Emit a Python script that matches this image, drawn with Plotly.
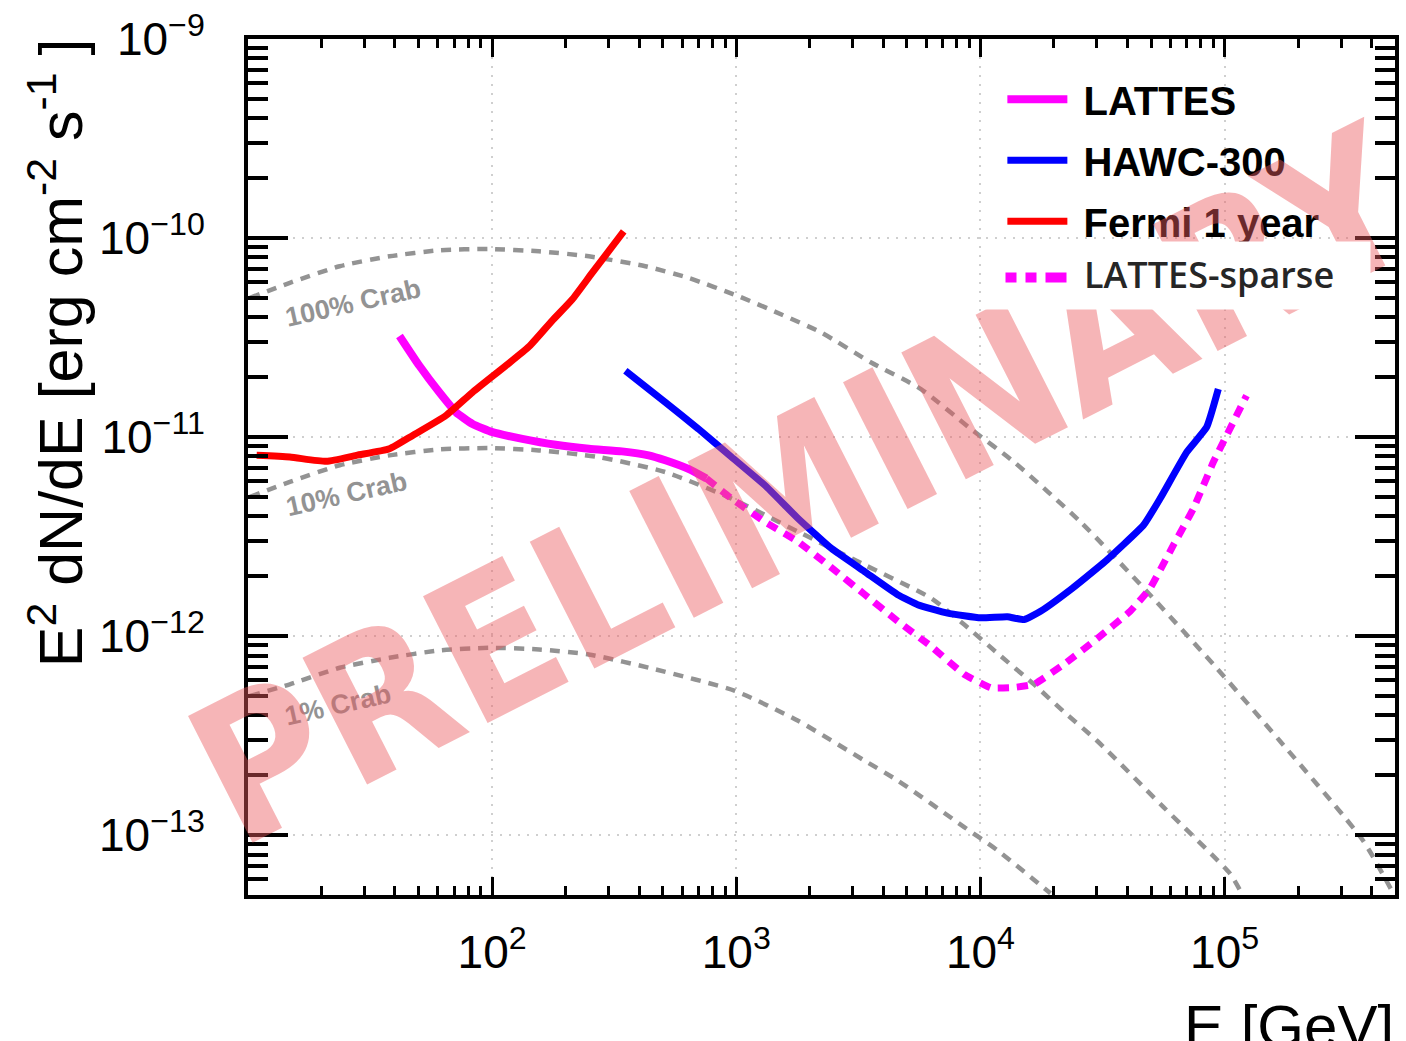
import plotly.graph_objects as go

# ---------------- data ----------------
# Fermi 1 year sensitivity
fermi_E = [10.85, 14.84, 20.95, 27.78, 37.98, 47.28, 64.7, 83.1, 113.7, 141.6, 176.3, 212.7, 256.7, 345.8]
fermi_F = [8.10e-12, 7.94e-12, 7.56e-12, 8.10e-12, 8.74e-12, 1.02e-11, 1.284e-11, 1.679e-11,
           2.283e-11, 2.85e-11, 3.85e-11, 4.914e-11, 6.68e-11, 1.080e-10]

# LATTES
lattes_E = [41.73, 50.35, 60.77, 71.1, 83.1, 100.3, 133.0, 182.0, 248.9, 340.2, 437.3, 511.7, 636.8, 754.6]
lattes_F = [3.224e-11, 2.283e-11, 1.679e-11, 1.334e-11, 1.165e-11, 1.059e-11, 9.80e-12, 9.15e-12,
            8.74e-12, 8.48e-12, 8.10e-12, 7.65e-12, 6.92e-12, 6.19e-12]

# LATTES-sparse
sparse_E = [754.6, 956.8, 1309, 1791, 2449, 3352, 4584, 6268, 8579, 11020, 13730, 16570, 21960,
            30030, 41060, 49560, 61760, 74530, 89940, 101900, 122970]
sparse_F = [6.19e-12, 4.914e-12, 3.758e-12, 2.985e-12, 2.213e-12, 1.622e-12, 1.189e-12, 8.91e-13,
            6.43e-13, 5.51e-13, 5.53e-13, 5.73e-13, 7.22e-13, 9.72e-13, 1.334e-12, 1.744e-12,
            2.873e-12, 4.38e-12, 7.50e-12, 1.020e-11, 1.616e-11]

# HAWC-300
hawc_E = [351.3, 511.7, 699.7, 956.8, 1309, 1791, 2449, 3352, 4584, 5533, 7335, 10030, 12890, 15080,
          17630, 23370, 30030, 32990, 46590, 54440, 69970, 84430, 94250]
hawc_F = [2.155e-11, 1.496e-11, 1.100e-11, 7.94e-12, 5.73e-12, 3.903e-12, 2.763e-12, 2.113e-12,
          1.616e-12, 1.440e-12, 1.307e-12, 1.237e-12, 1.252e-12, 1.212e-12, 1.334e-12, 1.712e-12,
          2.195e-12, 2.418e-12, 3.618e-12, 4.914e-12, 8.41e-12, 1.122e-11, 1.744e-11]

# Crab reference curves
crab100_E = [10.19, 14.84, 23.74, 37.98, 60.77, 97.2, 155.5, 248.9, 424.0, 637.0, 1019, 1531, 2230,
             3566, 5705, 9130, 13730, 25670, 48040, 89940, 168200, 368300, 489700]
crab100_F = [5.01e-11, 5.96e-11, 7.22e-11, 8.10e-11, 8.68e-11, 8.81e-11, 8.58e-11, 8.10e-11, 7.22e-11,
             6.31e-11, 5.11e-11, 4.134e-11, 3.350e-11, 2.371e-11, 1.744e-11, 1.100e-11, 7.50e-12,
             3.758e-12, 1.679e-12, 7.22e-13, 2.985e-13, 9.44e-14, 5.13e-14]

crab10_E = [10.19, 14.84, 23.74, 37.98, 60.77, 97.2, 155.5, 273.3, 511.7, 956.8, 1791, 3352, 6268,
            8579, 11730, 16570, 21960, 30030, 56200, 105100, 115500]
crab10_F = [5.01e-12, 5.96e-12, 7.22e-12, 8.10e-12, 8.68e-12, 8.81e-12, 8.58e-12, 7.94e-12, 6.68e-12,
            4.914e-12, 3.350e-12, 2.283e-12, 1.554e-12, 1.144e-12, 8.22e-13, 5.73e-13, 4.17e-13,
            2.985e-13, 1.385e-13, 6.43e-14, 5.31e-14]

crab1_E = [10.19, 14.84, 23.74, 37.98, 60.77, 97.2, 155.5, 248.9, 465.8, 987.9, 1791, 3352, 4584,
           8579, 11730, 19360]
crab1_F = [5.01e-13, 5.73e-13, 6.94e-13, 7.79e-13, 8.48e-13, 8.74e-13, 8.58e-13, 8.10e-13, 6.82e-13,
           5.31e-13, 3.758e-13, 2.371e-13, 1.884e-13, 1.100e-13, 8.41e-14, 5.11e-14]

x_tickvals = [1e2, 1e3, 1e4, 1e5]
x_ticktext = ["10<sup>2</sup>", "10<sup>3</sup>", "10<sup>4</sup>", "10<sup>5</sup>"]
y_tickvals = [1e-13, 1e-12, 1e-11, 1e-10, 1e-9]
y_ticktext = ["10<sup>\u221213</sup>", "10<sup>\u221212</sup>", "10<sup>\u221211</sup>",
              "10<sup>\u221210</sup>", "10<sup>\u22129</sup>"]

# ---------------- figure ----------------
W, H = 1406, 1041
L, R, T, B = 248, 1399, 35, 895


def px_x(px):
    return (px - L) / (R - L)


def px_y(py):
    return (B - py) / (B - T)


FONT = "Liberation Sans, Arial, Helvetica, sans-serif"
GRAY = "#939393"

fig = go.Figure()

crab_style = dict(color=GRAY, width=4.5, dash="10px,8px")
for E, F in [(crab100_E, crab100_F), (crab10_E, crab10_F), (crab1_E, crab1_F)]:
    fig.add_trace(go.Scatter(x=E, y=F, mode="lines", line=dict(crab_style, shape="spline", smoothing=0.6),
                             showlegend=False, hoverinfo="skip"))

fig.add_trace(go.Scatter(x=sparse_E, y=sparse_F, mode="lines", name="LATTES-sparse",
                         line=dict(color="#ff00ff", width=7, dash="11px,8px", shape="spline", smoothing=0.3),
                         showlegend=False))
fig.add_trace(go.Scatter(x=lattes_E, y=lattes_F, mode="lines", name="\u00a0LATTES", legendgroup="a",
                         line=dict(color="#ff00ff", width=8, shape="spline", smoothing=0.5)))
fig.add_trace(go.Scatter(x=hawc_E, y=hawc_F, mode="lines", name="\u00a0HAWC-300", legendgroup="b",
                         line=dict(color="#0000ff", width=7, shape="spline", smoothing=0.4)))
fig.add_trace(go.Scatter(x=fermi_E, y=fermi_F, mode="lines", name="\u00a0Fermi 1 year", legendgroup="c",
                         line=dict(color="#ff0000", width=7, shape="spline", smoothing=0.5)))

x_minor = [k * 10 ** d for d in range(1, 6) for k in range(2, 10)]
y_minor = [k * 10.0 ** d for d in range(-14, -9) for k in range(2, 10)]

common = dict(type="log", showline=True, linecolor="black", linewidth=4, mirror="allticks",
              ticks="inside", tickcolor="black", showgrid=True, gridcolor="#cfcfcf", gridwidth=2,
              griddash="2px,7px", zeroline=False, tickmode="array",
              tickfont=dict(family=FONT, size=46, color="black"))

fig.update_xaxes(common, range=[1, 5.698], tickvals=x_tickvals, ticktext=x_ticktext,
                 ticklen=18, tickwidth=3, ticklabelstandoff=14,
                 minor=dict(ticks="inside", ticklen=9, tickwidth=3, tickcolor="black",
                            tickmode="array", tickvals=x_minor, showgrid=False))
fig.update_yaxes(common, range=[-13.3, -9], tickvals=y_tickvals, ticktext=y_ticktext,
                 ticklen=40, tickwidth=4, ticklabelstandoff=30,
                 minor=dict(ticks="inside", ticklen=20, tickwidth=4, tickcolor="black",
                            tickmode="array", tickvals=y_minor, showgrid=False))

annotations = []
# axis titles
annotations.append(dict(text="E<sup>2</sup> dN/dE [erg cm<sup>-2</sup> s<sup>-1</sup> ]",
                        xref="paper", yref="paper", x=px_x(55), y=px_y(350), textangle=-90,
                        showarrow=False, font=dict(family=FONT, size=61, color="black"),
                        xanchor="center", yanchor="middle"))
annotations.append(dict(text="E [GeV]", xref="paper", yref="paper", x=px_x(1400), y=px_y(1027),
                        showarrow=False, font=dict(family=FONT, size=60, color="black"),
                        xanchor="right", yanchor="middle"))
# crab labels
for txt, cx, cy in [("100% Crab", 353, 300), ("10% Crab", 347, 492), ("1% Crab", 338, 704)]:
    annotations.append(dict(text=txt, xref="paper", yref="paper", x=px_x(cx), y=px_y(cy),
                            textangle=-12.5, showarrow=False, xanchor="center", yanchor="middle",
                            font=dict(family=FONT, size=27, color=GRAY, weight="bold")))
# watermark
annotations.append(dict(text="PRELIMINARY", xref="paper", yref="paper", x=px_x(805), y=px_y(485),
                        textangle=-27, showarrow=False, xanchor="center", yanchor="middle",
                        font=dict(family="Liberation Sans Narrow, DejaVu Sans Condensed, Liberation Sans",
                                  size=195, weight="bold", color="rgba(235,90,95,0.45)")))
# LATTES-sparse legend row (white patch drawn above watermark)
annotations.append(dict(text=" ", xref="paper", yref="paper", x=px_x(988), y=px_y(238),
                        xanchor="left", yanchor="top", width=384, height=67, bgcolor="white",
                        showarrow=False, borderpad=0, font=dict(size=2)))
annotations.append(dict(text="LATTES-sparse", xref="paper", yref="paper", x=px_x(1085), y=px_y(272),
                        xanchor="left", yanchor="middle", showarrow=False,
                        font=dict(family="Open Sans, sans-serif", size=36, color="#262626", weight=600)))
for x0, x1 in [(1008, 1018), (1028, 1038), (1048, 1068)]:
    annotations.append(dict(text=" ", xref="paper", yref="paper", x=px_x(x0), y=px_y(269),
                            xanchor="left", yanchor="top", width=x1 - x0, height=9, bgcolor="#ff00ff",
                            showarrow=False, borderpad=0, font=dict(size=2)))

fig.update_layout(
    width=W, height=H,
    margin=dict(l=L, r=W - R, t=T, b=H - B, pad=0),
    paper_bgcolor="white", plot_bgcolor="white",
    font=dict(family=FONT, color="black"),
    showlegend=True,
    legend=dict(x=px_x(1005), y=px_y(63), xanchor="left", yanchor="top", bgcolor="rgba(0,0,0,0)",
                borderwidth=0, itemwidth=60, tracegroupgap=6, traceorder="grouped",
                font=dict(family=FONT, size=40, color="black", weight="bold")),
    annotations=annotations,
)

fig.write_html("out.html")
